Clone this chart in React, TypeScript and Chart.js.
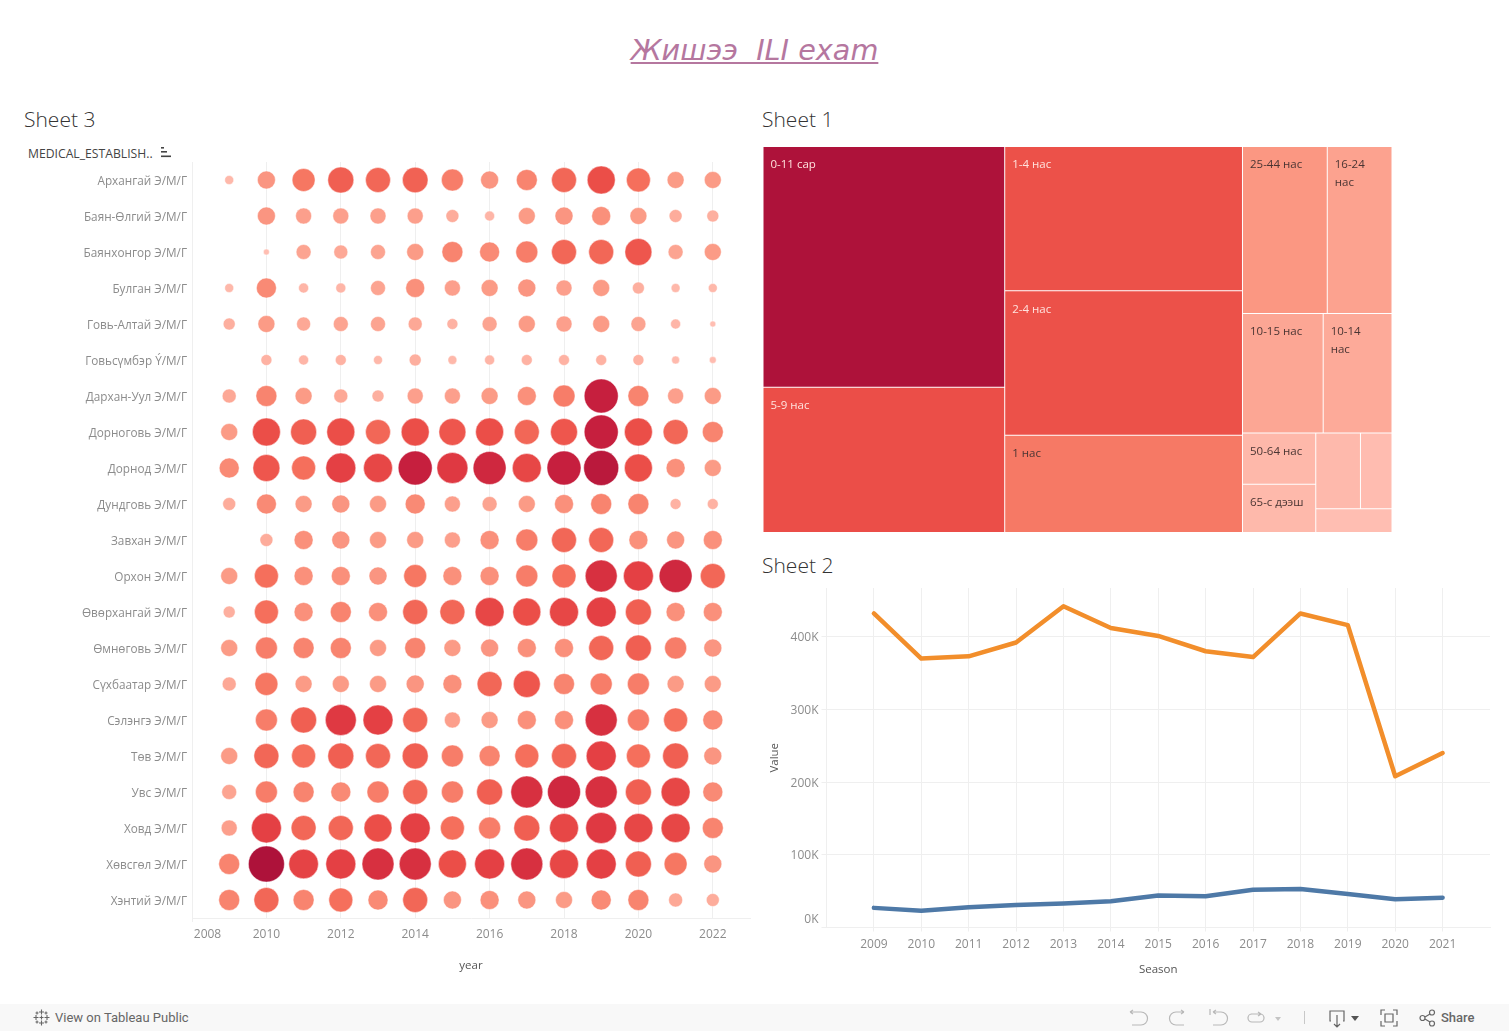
import React, { useEffect, useRef } from "react";
import { Chart, registerables, BarController } from "chart.js";

const provinces = ["Архангай Э/М/Г","Баян-Өлгий Э/М/Г","Баянхонгор Э/М/Г","Булган Э/М/Г","Говь-Алтай Э/М/Г","Говьсүмбэр Ý/М/Г","Дархан-Уул Э/М/Г","Дорноговь Э/М/Г","Дорнод Э/М/Г","Дундговь Э/М/Г","Завхан Э/М/Г","Орхон Э/М/Г","Өвөрхангай Э/М/Г","Өмнөговь Э/М/Г","Сүхбаатар Э/М/Г","Сэлэнгэ Э/М/Г","Төв Э/М/Г","Увс Э/М/Г","Ховд Э/М/Г","Хөвсгөл Э/М/Г","Хэнтий Э/М/Г"];
const bubbleYears = [2009,2010,2011,2012,2013,2014,2015,2016,2017,2018,2019,2020,2021,2022];
const arkhangai = [20,81,132,169,156,164,121,81,110,156,196,144,72,72];
const bayanOlgii = [null,81,64,64,64,64,42,25,72,81,90,72,42,36];
const bayankhongor = [null,9,56,49,56,72,110,100,121,156,156,182,56,72];
const bulgan = [20,100,25,25,56,90,64,72,81,64,72,36,20,20];
const goviAltai = [36,72,49,56,56,49,30,56,72,64,72,56,25,9];
const govisumber = [null,30,25,30,20,36,20,25,30,30,30,30,16,12];
const darkhanUul = [49,110,72,49,36,64,64,72,90,121,289,110,64,72];
const dornogovi = [72,196,169,196,156,196,182,196,156,182,289,196,156,110];
const dornod = [100,182,144,225,210,289,240,272,210,289,306,196,90,72];
const dundgovi = [42,100,72,81,72,100,64,56,72,90,110,110,30,30];
const zavkhan = [null,42,90,81,72,72,64,90,121,156,156,90,81,90];
const orkhon = [72,144,90,90,81,132,90,90,121,144,256,225,272,156];
const ovorkhangai = [36,144,90,110,90,156,156,210,196,210,225,169,90,90];
const omnogovi = [72,121,110,110,72,110,72,81,90,90,156,169,121,81];
const sukhbaatar = [49,132,72,72,72,81,90,156,182,110,121,121,72,72];
const selenge = [null,121,169,240,225,156,64,72,90,90,256,121,144,100];
const tov = [72,156,144,169,156,169,121,110,144,156,225,144,169,81];
const uvs = [56,121,110,100,121,156,121,169,256,272,256,169,210,100];
const khovd = [64,225,156,156,196,225,144,121,169,210,240,210,210,110];
const khovsgol = [110,324,219,225,256,256,196,225,256,210,225,169,132,81];
const khentii = [110,156,110,144,100,156,81,90,81,72,100,110,49,42];
const provinceValues = [arkhangai,bayanOlgii,bayankhongor,bulgan,goviAltai,govisumber,darkhanUul,dornogovi,dornod,dundgovi,zavkhan,orkhon,ovorkhangai,omnogovi,sukhbaatar,selenge,tov,uvs,khovd,khovsgol,khentii];

const ageLabels = ["0-11 сар","5-9 нас","1-4 нас","2-4 нас","1 нас","25-44 нас","16-24\nнас","10-15 нас","10-14\nнас","50-64 нас","65-с дээш","","",""];
const ageValues = [57300,34600,33800,33800,22800,13950,10650,9500,8100,3700,3480,3330,2350,1790];
const ageTree: any = [[0,1],[2,3,4],[[5,6],[7,8],[[9,10],[[11,12],[13]]]]];

const seasons = [2009,2010,2011,2012,2013,2014,2015,2016,2017,2018,2019,2020,2021];
const seasonOrange = [432000,370000,373000,392000,442000,412000,401000,380000,372000,432000,416000,208000,240000];
const seasonBlue = [27000,23000,28000,31000,33000,36000,44000,43000,52000,53000,46000,39000,41000];
const valueTicks = [0,100000,200000,300000,400000];

const FONT = "'Open Sans', sans-serif";
const TICK = "#8c8c8c";
const GRID = "#efefef";
const RAMP: [number, number[]][] = [[0,[255,190,178]],[0.21,[251,153,132]],[0.42,[245,113,93]],[0.58,[236,80,73]],[0.72,[225,59,66]],[0.88,[200,32,62]],[1,[174,18,58]]];
function ramp(t: number) {
  const c = Math.max(0, Math.min(1, t));
  for (let i = 1; i < RAMP.length; i++) {
    if (c <= RAMP[i][0]) {
      const [a, ca] = RAMP[i - 1], [b, cb] = RAMP[i];
      const f = (c - a) / (b - a);
      return `rgb(${ca.map((v, k) => Math.round(v + (cb[k] - v) * f)).join(",")})`;
    }
  }
  return "rgb(174,18,58)";
}

function sumTree(n: any): number { return Array.isArray(n) ? n.reduce((s: number, c: any) => s + sumTree(c), 0) : ageValues[n]; }
function layoutTree(n: any, x0: number, y0: number, x1: number, y1: number, horizontal: boolean, out: any[]) {
  if (!Array.isArray(n)) { out[n] = { x0, y0, x1, y1 }; return; }
  const total = sumTree(n);
  let pos = horizontal ? x0 : y0;
  for (const c of n) {
    const size = (sumTree(c) / total) * (horizontal ? x1 - x0 : y1 - y0);
    if (horizontal) layoutTree(c, pos, y0, pos + size, y1, false, out);
    else layoutTree(c, x0, pos, x1, pos + size, true, out);
    pos += size;
  }
}

class TreemapController extends (BarController as any) {
  static id = "treemapcell";
  static defaults = { dataElementType: "bar" };
  updateElements(bars: any[], start: number, count: number, mode: string) {
    const meta = (this as any)._cachedMeta;
    const xs = meta.xScale, ys = meta.yScale;
    const rects: any[] = [];
    layoutTree(ageTree, 0, 0, 1, 1, true, rects);
    for (let i = start; i < start + count; i++) {
      const r = rects[i];
      const l = xs.getPixelForValue(r.x0), h = xs.getPixelForValue(r.x1);
      const t = ys.getPixelForValue(r.y0), b = ys.getPixelForValue(r.y1);
      (this as any).updateElement(bars[i], i, {
        x: (l + h) / 2, width: h - l - 1, y: t, base: b - 1, height: b - 1 - t,
        horizontal: false, inflateAmount: 0, borderSkipped: {},
        options: (this as any).resolveDataElementOptions(i, mode),
      }, mode);
    }
  }
}
Chart.register(...registerables, TreemapController as any);

// Shifts axis tick labels: every label by (allDx, allDy), and the first one by an extra (firstDx, firstDy).
const nudgeLabels = (axis: string, allDx: number, allDy: number, firstDx: number, firstDy: number) => ({
  id: "nudge" + axis,
  beforeDraw(chart: any) {
    chart.scales[axis].getLabelItems().forEach((it: any, i: number) => {
      if (it._moved) return;
      it.options.translation[0] += allDx + (i === 0 ? firstDx : 0);
      it.options.translation[1] += allDy + (i === 0 ? firstDy : 0);
      it._moved = true;
    });
  },
});

const treemapLabels = {
  id: "treemapLabels",
  afterDatasetsDraw(chart: any) {
    const { ctx } = chart;
    chart.getDatasetMeta(0).data.forEach((el: any, i: number) => {
      ctx.save();
      ctx.font = `11.5px ${FONT}`;
      ctx.textBaseline = "middle";
      ctx.fillStyle = i < 4 ? "#ffe3de" : "#4a3533";
      ageLabels[i].split("\n").forEach((s, k) => ctx.fillText(s, el.x - el.width / 2 + 7, el.y + 18 + k * 18));
      ctx.restore();
    });
  },
};

const noPad = (s: any) => { s.paddingLeft = 0; s.paddingRight = 0; s.paddingTop = 0; s.paddingBottom = 0; };

function useChart(make: (c: HTMLCanvasElement) => Chart) {
  const ref = useRef<HTMLCanvasElement>(null);
  useEffect(() => { const ch = make(ref.current!); return () => ch.destroy(); }, []);
  return ref;
}

const abs = (l: number, t: number, w: number, h: number): React.CSSProperties => ({ position: "absolute", left: l, top: t, width: w, height: h, display: "block" });

function BubbleChart() {
  const ref = useChart((c) => new Chart(c, {
    type: "bubble",
    data: { datasets: [{
      label: "Cases",
      data: provinces.flatMap((p, i) => bubbleYears.map((y, j) => {
        const v = provinceValues[i][j];
        return v == null ? null : { x: y, y: p, r: Math.sqrt(v), v };
      }).filter(Boolean)) as any,
      backgroundColor: (ctx: any) => ramp(((ctx.raw?.v ?? 9) - 9) / 315),
      borderColor: "rgba(255,255,255,0.45)",
      borderWidth: 1,
    }] },
    options: {
      animation: false, responsive: false, events: [],
      layout: { autoPadding: false, padding: { top: 12, right: 10, left: 0, bottom: 0 } },
      plugins: { legend: { display: false }, tooltip: { enabled: false } },
      scales: {
        x: { type: "linear", min: 2008, max: 2023,
          afterFit: (s: any) => { s.height = 55; noPad(s); },
          grid: { color: GRID, lineWidth: 1, tickLength: 4, tickColor: (ctx: any) => (ctx.index === 0 ? GRID : "transparent") },
          border: { color: GRID },
          ticks: { stepSize: 2, includeBounds: false, maxRotation: 0, autoSkip: false, color: TICK, padding: 5, font: { family: FONT, size: 12 }, callback: (v: any) => String(v) },
          title: { display: true, text: "year", color: "#555", font: { family: FONT, size: 11.5 }, padding: { top: 0, bottom: 0 } },
        },
        y: { type: "category", labels: provinces, offset: true,
          afterFit: (s: any) => { s.width = 192; noPad(s); },
          grid: { display: false, drawTicks: false },
          border: { display: true, color: GRID },
          ticks: { autoSkip: false, color: TICK, padding: 5, font: { family: FONT, size: 11.75 } },
        },
      },
    },
    plugins: [nudgeLabels("x", 0, 0, 15.5, 0), nudgeLabels("y", 0, 2, 0, 0)],
  } as any));
  return <canvas ref={ref} width={760} height={823} style={abs(0, 150, 760, 823)} />;
}

function TreemapChart() {
  const ref = useChart((c) => new Chart(c, {
    type: "treemapcell",
    data: { labels: ageLabels, datasets: [{ label: "Age", data: ageValues, backgroundColor: ageValues.map((v) => ramp((v - 1790) / (57300 - 1790))) }] },
    options: {
      animation: false, responsive: false, events: [],
      layout: { autoPadding: false, padding: 0 },
      plugins: { legend: { display: false }, tooltip: { enabled: false } },
      scales: {
        x: { type: "linear", min: 0, max: 1, display: false, offset: false, grid: { offset: false } },
        y: { type: "linear", min: 0, max: 1, reverse: true, display: false, offset: false },
      },
    },
    plugins: [treemapLabels],
  } as any));
  return <canvas ref={ref} width={629} height={386} style={abs(763, 147, 629, 386)} />;
}

function LineChart() {
  const ref = useChart((c) => new Chart(c, {
    type: "line",
    data: { datasets: [
      { label: "Series A", data: seasons.map((s, i) => ({ x: s, y: seasonOrange[i] })), borderColor: "#f28e2b", borderWidth: 4.5, pointRadius: 0, tension: 0, borderCapStyle: "round", borderJoinStyle: "round" },
      { label: "Series B", data: seasons.map((s, i) => ({ x: s, y: seasonBlue[i] })), borderColor: "#4e79a7", borderWidth: 4.5, pointRadius: 0, tension: 0, borderCapStyle: "round", borderJoinStyle: "round" },
    ] },
    options: {
      animation: false, responsive: false, events: [],
      layout: { autoPadding: false, padding: { top: 8, right: 10, left: 0, bottom: 0 } },
      plugins: { legend: { display: false }, tooltip: { enabled: false } },
      scales: {
        x: { type: "linear", min: 2008, max: 2022,
          afterFit: (s: any) => { s.height = 49.5; noPad(s); },
          grid: { color: GRID, tickLength: 4 }, border: { color: GRID },
          ticks: { stepSize: 1, autoSkip: false, maxRotation: 0, color: TICK, padding: 6, font: { family: FONT, size: 12 },
            callback: (v: any) => (seasons.includes(v) ? String(v) : null) },
          title: { display: true, text: "Season", color: "#555", font: { family: FONT, size: 11.5 }, padding: { top: 0, bottom: 0 } },
        },
        y: { type: "linear", min: 0, max: 467000,
          afterBuildTicks: (s: any) => { s.ticks = valueTicks.map((value) => ({ value })); },
          afterFit: (s: any) => { s.width = 66.5; noPad(s); },
          grid: { color: GRID, tickLength: 5 }, border: { color: GRID },
          ticks: { color: TICK, padding: 3, font: { family: FONT, size: 12 }, callback: (v: any) => `${v / 1000}K` },
          title: { display: true, text: "Value", color: "#555", font: { family: FONT, size: 11.5 }, padding: { top: 8, bottom: 0 } },
        },
      },
    },
    plugins: [nudgeLabels("y", 0, 1, 0, -8.5)],
  } as any));
  return <canvas ref={ref} width={740} height={397} style={abs(760, 580, 740, 397)} />;
}

const sheet = (t: string, l: number, top: number) => (
  <div style={{ position: "absolute", left: l, top, fontFamily: FONT, fontWeight: 300, fontSize: 21, lineHeight: "26px", color: "#333" }}>{t}</div>
);
const ic = { fill: "none", stroke: "#b8b8b8", strokeWidth: 1.2 } as const;
const icd = { fill: "none", stroke: "#666", strokeWidth: 1.2 } as const;

export default function App() {
  return (
    <div style={{ position: "absolute", left: 0, top: 0, width: 1509, height: 1031, overflow: "hidden", background: "#fff" }}>
      <div style={{ position: "absolute", left: 0, top: 28, width: 1509, textAlign: "center", fontFamily: "'DejaVu Sans', sans-serif", fontStyle: "oblique", fontSize: 28.7, lineHeight: "44px", color: "#b5779f", textDecoration: "underline", whiteSpace: "pre" }}>
        {"Жишээ  ILI exam"}
      </div>
      {sheet("Sheet 3", 24, 106)}
      {sheet("Sheet 1", 762, 106)}
      {sheet("Sheet 2", 762, 552)}
      <div style={{ position: "absolute", left: 28, top: 146, fontFamily: FONT, fontSize: 12.2, fontWeight: 500, lineHeight: "16px", color: "#444" }}>MEDICAL_ESTABLISH..</div>
      <svg style={abs(160, 147, 12, 12)} viewBox="0 0 12 12"><rect x="1" y="0" width="3" height="1.6" fill="#444" /><rect x="1" y="4" width="6" height="1.6" fill="#444" /><rect x="1" y="8.5" width="10" height="1.6" fill="#444" /></svg>
      <BubbleChart />
      <TreemapChart />
      <LineChart />
      <div style={{ position: "absolute", left: 0, top: 1004, width: 1509, height: 27, background: "#f8f8f8" }} />
      <svg style={abs(33, 1009, 17, 17)} viewBox="0 0 17 17" stroke="#666" strokeWidth="1.1" fill="none">
        <path d="M8.5 0.5v5M6 3h5M8.5 11.5v5M6 14h5M0.5 8.5h5M3 6v5M11.5 8.5h5M14 6v5M8.5 6.5v4M6.5 8.5h4M4 2.5v3M2.5 4h3M13 2.5v3M11.5 4h3M4 11.5v3M2.5 13h3M13 11.5v3M11.5 13h3" />
      </svg>
      <div style={{ position: "absolute", left: 55, top: 1009, fontFamily: "Roboto, sans-serif", fontSize: 13, lineHeight: "17px", color: "#666" }}>View on Tableau Public</div>
      <svg style={abs(1125, 1006, 290, 24)} viewBox="0 0 290 24">
        <path d="M5 6h11a6 6 0 0 1 0 13H7M5 6l3-2M5 6l3 2" {...ic} />
        <path d="M59 6H51a6.500 6.500 0 0 0 0 13h8M59 6l-3-2M59 6l-3 2" {...ic} />
        <path d="M85 3v6M88 6h8a6 6 0 0 1 0 13h-8M88 6l3-2M88 6l3 2" {...ic} />
        <path d="M126 8h9a4 4 0 0 1 0 8h-8a4 4 0 0 1 0-8M136 8l-3-2M136 8l-3 2" {...ic} />
        <path d="M150 11l6 0l-3 4z" fill="#c4c4c4" />
        <path d="M179.500 5v13" stroke="#c8c8c8" strokeWidth="1" />
        <path d="M206 15h-1V5h14v10h-1M212 9v11M209 18l3 3l3-3" {...icd} />
        <path d="M226 10h8l-4 5z" fill="#555" />
        <path d="M256 9V4h4M268 4h4v5M272 15v5h-4M260 20h-4v-5M260 8h8v8h-8z" {...icd} />
      </svg>
      <svg style={abs(1419, 1009, 18, 18)} viewBox="0 0 18 18"><circle cx="3.500" cy="9" r="2.500" {...icd} /><circle cx="13" cy="3.500" r="2.500" {...icd} /><circle cx="13" cy="14.500" r="2.500" {...icd} /><path d="M6 8l5-3M6 10l5 3" {...icd} /></svg>
      <div style={{ position: "absolute", left: 1441, top: 1009, fontFamily: "Roboto, sans-serif", fontSize: 13, fontWeight: 500, lineHeight: "17px", color: "#666" }}>Share</div>
    </div>
  );
}
